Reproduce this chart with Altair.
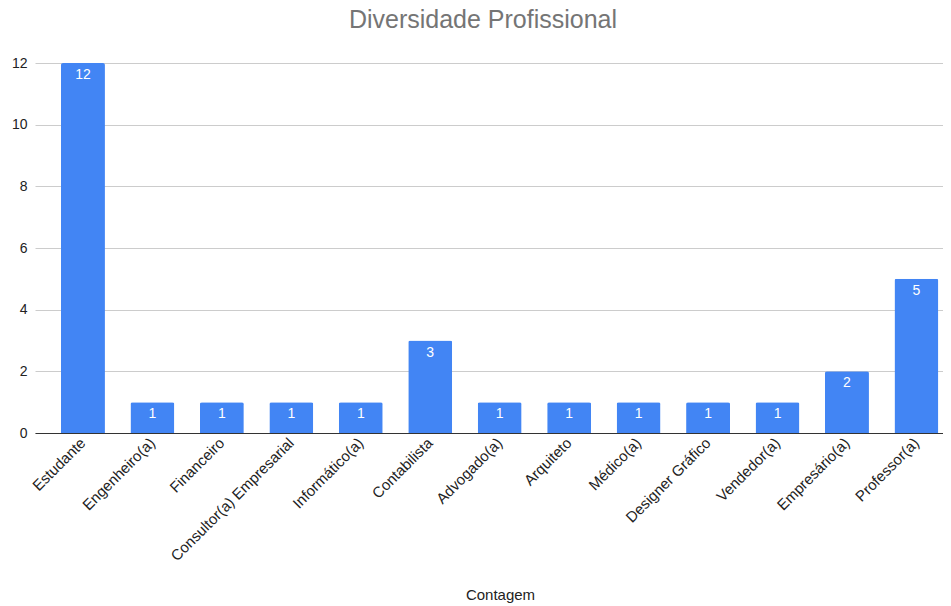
import altair as alt
import pandas as pd

categories = ["Estudante", "Engenheiro(a)", "Financeiro", "Consultor(a) Empresarial",
              "Informático(a)", "Contabilista", "Advogado(a)", "Arquiteto", "Médico(a)",
              "Designer Gráfico", "Vendedor(a)", "Empresário(a)", "Professor(a)"]
counts = [12, 1, 1, 1, 1, 3, 1, 1, 1, 1, 1, 2, 5]
y_ticks = [0, 2, 4, 6, 8, 10, 12]
title_text = "Diversidade Profissional"

df = pd.DataFrame({"cat": categories, "n": counts})

FONT = "Liberation Sans"

x = alt.X("cat:N", sort=categories,
          scale=alt.Scale(paddingInner=0.367, paddingOuter=0.22, align=0.85),
          axis=alt.Axis(title="Contagem", labelAngle=-45, labelAlign="right",
                        labelBaseline="middle", labelFontSize=15, labelColor="#222222",
                        labelFont=FONT, ticks=False, labelPadding=7,
                        domainColor="#333333", domainWidth=1,
                        titleFont=FONT, titleFontSize=15, titleFontWeight="normal",
                        titleColor="#222222", titleX=465, titleY=166,
                        titleBaseline="alphabetic", titleAnchor="start", titleAlign="center"))
y = alt.Y("n:Q", scale=alt.Scale(domain=[0, 12], nice=False),
          axis=alt.Axis(title=None, values=y_ticks, labelFontSize=14, labelColor="#222222",
                        labelFont=FONT, ticks=False, domain=False, labelPadding=8,
                        gridColor="#cccccc", gridWidth=1))

bars = alt.Chart(df).mark_bar(color="#4285F4", cornerRadiusTopLeft=2,
                              cornerRadiusTopRight=2).encode(x=x, y=y)
labels = alt.Chart(df).mark_text(color="white", font=FONT, fontSize=14, baseline="middle",
                                 dy=12).encode(x=alt.X("cat:N", sort=categories),
                                               y="n:Q", text="n:Q")
title = alt.Chart(pd.DataFrame({"t": [title_text]})).mark_text(
    font=FONT, fontSize=25, color="#757575", baseline="alphabetic", align="center"
).encode(x=alt.value(448), y=alt.value(-35), text="t:N")

chart = (bars + labels + title).properties(
    width=908, height=370,
    autosize="none",
    padding={"left": 27, "top": 55, "right": 0, "bottom": 172},
).configure_view(stroke=None)

chart.save("out.html", embed_options={"renderer": "svg", "actions": False})
